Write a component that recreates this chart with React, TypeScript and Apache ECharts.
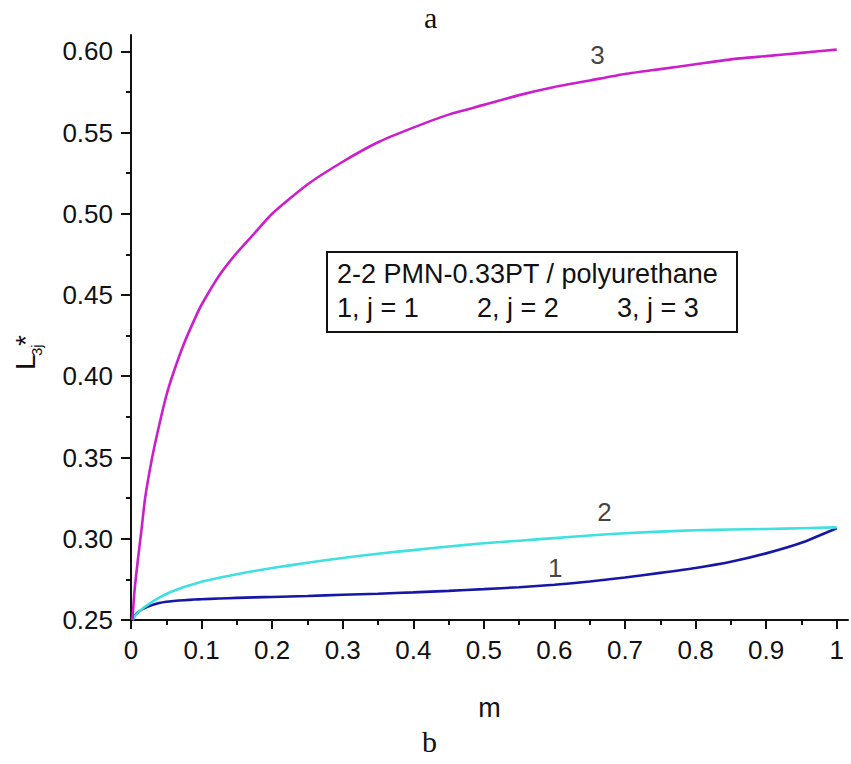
import React, { useEffect, useRef } from "react";
import * as echarts from "echarts";

// Volume fraction m (shared abscissa for all three curves)
const mValues = [
  0.002, 0.005, 0.01, 0.015, 0.02, 0.03, 0.04, 0.05, 0.06, 0.075, 0.09, 0.1,
  0.125, 0.15, 0.175, 0.2, 0.25, 0.3, 0.35, 0.4, 0.45, 0.5, 0.55, 0.6, 0.65,
  0.7, 0.75, 0.8, 0.85, 0.9, 0.95, 1.0,
];

// L*_31
const curve1 = [
  0.25, 0.2525, 0.2548, 0.2563, 0.2575, 0.2592, 0.2604, 0.2612, 0.2617, 0.2622,
  0.2626, 0.2628, 0.2632, 0.2636, 0.2639, 0.2642, 0.2648, 0.2655, 0.2662,
  0.267, 0.2679, 0.269, 0.2702, 0.2717, 0.2737, 0.2762, 0.279, 0.282, 0.2858,
  0.291, 0.2975, 0.3065,
];

// L*_32
const curve2 = [
  0.25, 0.2522, 0.2545, 0.2565, 0.2582, 0.2612, 0.2638, 0.266, 0.2678, 0.2703,
  0.2722, 0.2735, 0.276, 0.2782, 0.2802, 0.282, 0.2852, 0.2882, 0.2908, 0.293,
  0.2952, 0.2972, 0.2988, 0.3004, 0.302, 0.3034, 0.3044, 0.3052, 0.3057,
  0.306, 0.3065, 0.307,
];

// L*_33
const curve3 = [
  0.25, 0.268, 0.288, 0.306, 0.325, 0.35, 0.37, 0.388, 0.402, 0.42, 0.435,
  0.444, 0.462, 0.476, 0.488, 0.5, 0.518, 0.532, 0.544, 0.553, 0.561, 0.567,
  0.573, 0.578, 0.582, 0.586, 0.589, 0.592, 0.595, 0.597, 0.599, 0.601,
];

// Curve number labels: [m, L, text]
const curveLabels: [number, number, string][] = [
  [0.601, 0.2818, "1"],
  [0.671, 0.3166, "2"],
  [0.661, 0.5975, "3"],
];

const xMajorTicks = [0, 0.1, 0.2, 0.3, 0.4, 0.5, 0.6, 0.7, 0.8, 0.9, 1];
const xMinorTicks = [0.05, 0.15, 0.25, 0.35, 0.45, 0.55, 0.65, 0.75, 0.85, 0.95];
const yMajorTicks = [0.25, 0.3, 0.35, 0.4, 0.45, 0.5, 0.55, 0.6];
const yMinorTicks = [0.275, 0.325, 0.375, 0.425, 0.475, 0.525, 0.575];

const legendTitle = "2-2 PMN-0.33PT / polyurethane";
const legendItems = ["1, j = 1", "2, j = 2", "3, j = 3"];

const SANS = "Liberation Sans, Arial, sans-serif";
const SERIF = "Liberation Serif, Times New Roman, serif";
const X_MIN = 0;
const X_MAX = 1.016;
const Y_MIN = 0.25;
const Y_MAX = 0.61;

const toPairs = (ys: number[]) => mValues.map((m, i) => [m, ys[i]]);

export default function App() {
  const ref = useRef<HTMLDivElement>(null);

  useEffect(() => {
    if (!ref.current) return;
    const chart = echarts.init(ref.current, null, { renderer: "svg" });

    const axisLine = { show: true, lineStyle: { color: "#111", width: 2 } };
    const labelStyle = { color: "#111", fontSize: 26, fontFamily: SANS };

    const lineSeries = (name: string, ys: number[], color: string) => ({
      name,
      type: "line",
      data: toPairs(ys),
      showSymbol: false,
      smooth: 0.2,
      lineStyle: { color, width: 2.6 },
      xAxisIndex: 0,
      yAxisIndex: 0,
      z: 3,
    });

    chart.setOption({
      animation: false,
      backgroundColor: "#ffffff",
      grid: {
        left: 131,
        right: 3,
        top: 35,
        bottom: 144,
        outerBoundsMode: "none",
      },
      xAxis: [
        {
          type: "value",
          min: X_MIN,
          max: X_MAX,
          axisLine,
          splitLine: { show: false },
          axisTick: {
            show: true,
            inside: false,
            length: 9,
            lineStyle: { color: "#111", width: 2 },
            customValues: xMajorTicks,
          },
          axisLabel: {
            ...labelStyle,
            margin: 17,
            customValues: xMajorTicks,
            formatter: (v: number) => String(Math.round(v * 10) / 10),
          },
          name: "m",
          nameLocation: "middle",
          nameGap: 74,
          nameTextStyle: { color: "#111", fontSize: 27, fontFamily: SANS },
        },
        {
          type: "value",
          min: X_MIN,
          max: X_MAX,
          position: "bottom",
          axisLine: { show: false },
          splitLine: { show: false },
          axisLabel: { show: false },
          axisTick: {
            show: true,
            inside: false,
            length: 5,
            lineStyle: { color: "#111", width: 2 },
            customValues: xMinorTicks,
          },
        },
      ],
      yAxis: [
        {
          type: "value",
          min: Y_MIN,
          max: Y_MAX,
          axisLine,
          splitLine: { show: false },
          axisTick: {
            show: true,
            inside: false,
            length: 10,
            lineStyle: { color: "#111", width: 2 },
            customValues: yMajorTicks,
          },
          axisLabel: {
            ...labelStyle,
            margin: 18,
            customValues: yMajorTicks,
            formatter: (v: number) => v.toFixed(2),
          },
        },
        {
          type: "value",
          min: Y_MIN,
          max: Y_MAX,
          position: "left",
          axisLine: { show: false },
          splitLine: { show: false },
          axisLabel: { show: false },
          axisTick: {
            show: true,
            inside: false,
            length: 5,
            lineStyle: { color: "#111", width: 2 },
            customValues: yMinorTicks,
          },
        },
      ],
      series: [
        lineSeries("1", curve1, "#1717a6"),
        lineSeries("2", curve2, "#3fe0e0"),
        lineSeries("3", curve3, "#cc1fcc"),
        {
          type: "scatter",
          data: curveLabels.map(([m, v, t]) => ({ value: [m, v], name: t })),
          symbolSize: 0,
          xAxisIndex: 0,
          yAxisIndex: 0,
          silent: true,
          label: {
            show: true,
            position: "inside",
            formatter: (p: any) => p.name,
            color: "#111",
            fontSize: 26,
            fontFamily: SANS,
          },
          z: 4,
        },
      ],
      graphic: [
        // panel captions
        {
          type: "text",
          left: 424,
          top: 2,
          style: { text: "a", fontSize: 30, fontFamily: SERIF, fill: "#111" },
        },
        {
          type: "text",
          left: 422,
          top: 726,
          style: { text: "b", fontSize: 30, fontFamily: SERIF, fill: "#111" },
        },
        // rotated y-axis title L*_3j
        {
          type: "group",
          x: 35,
          y: 370,
          rotation: Math.PI / 2,
          children: [
            {
              type: "text",
              x: 0,
              y: -10,
              style: {
                text: "L",
                fontSize: 28,
                fontFamily: SANS,
                fill: "#111",
                align: "left",
                verticalAlign: "middle",
              },
            },
            {
              type: "text",
              x: 14,
              y: 1,
              style: {
                text: "3j",
                fontSize: 15,
                fontFamily: SANS,
                fill: "#111",
                align: "left",
                verticalAlign: "middle",
              },
            },
            {
              type: "text",
              x: 24,
              y: -10,
              style: {
                text: "*",
                fontSize: 28,
                fontFamily: SANS,
                fill: "#111",
                align: "left",
                verticalAlign: "middle",
              },
            },
          ],
        },
        // legend panel
        {
          type: "group",
          left: 326,
          top: 251,
          children: [
            {
              type: "rect",
              shape: { x: 0, y: 0, width: 410, height: 80 },
              style: { fill: "#fff", stroke: "#111", lineWidth: 2 },
            },
            {
              type: "text",
              x: 10,
              y: 22,
              style: {
                text: legendTitle,
                fontSize: 27,
                fontFamily: SANS,
                fill: "#111",
                verticalAlign: "middle",
              },
            },
            ...legendItems.map((t, i) => ({
              type: "text",
              x: 10 + i * 140,
              y: 56,
              style: {
                text: t,
                fontSize: 27,
                fontFamily: SANS,
                fill: "#111",
                verticalAlign: "middle",
              },
            })),
          ],
        },
      ],
    });

    return () => chart.dispose();
  }, []);

  return (
    <div
      ref={ref}
      style={{
        position: "fixed",
        left: 0,
        top: 0,
        width: 851,
        height: 764,
        background: "#fff",
      }}
    />
  );
}
